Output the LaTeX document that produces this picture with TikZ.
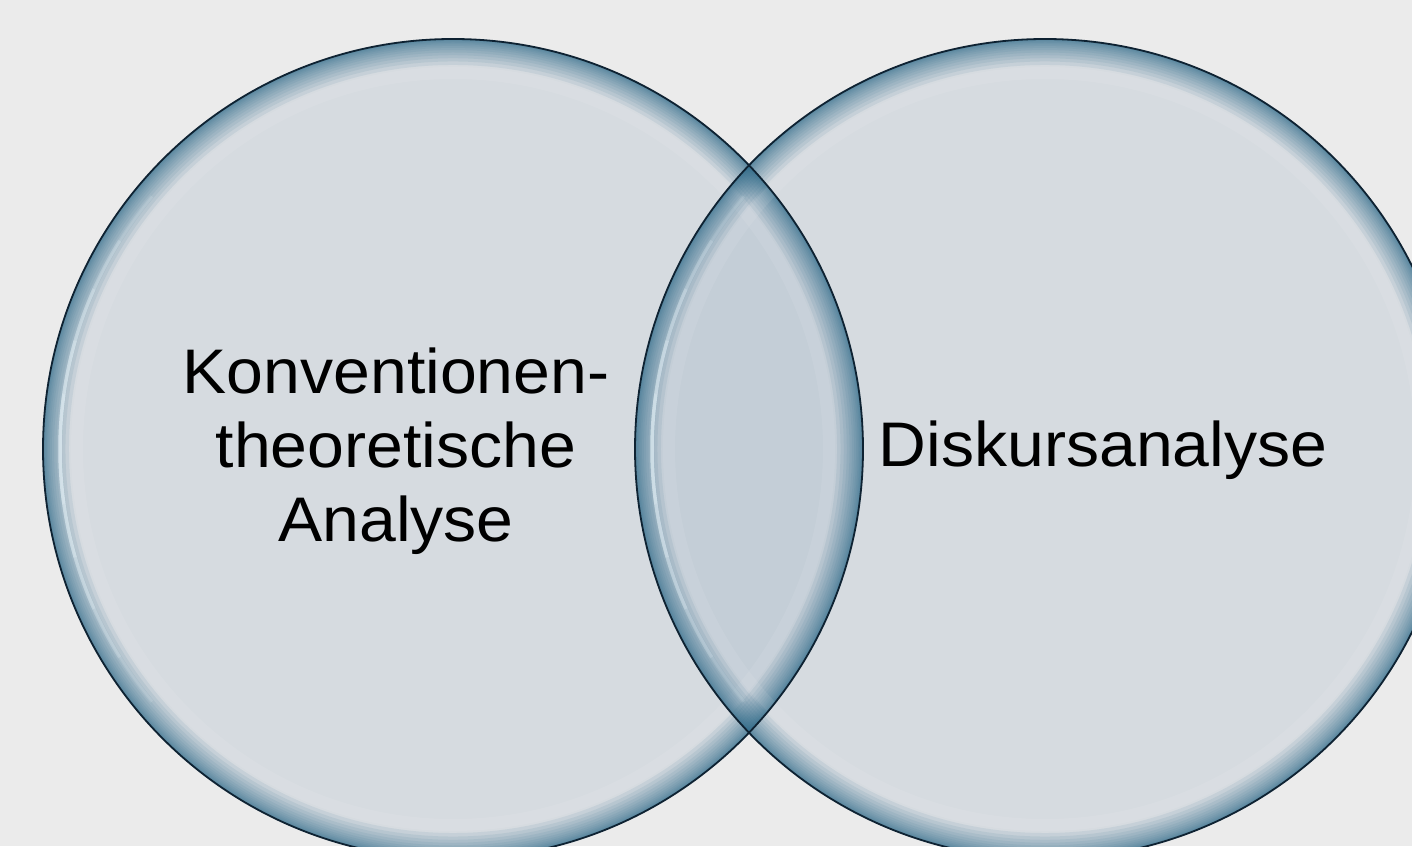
\documentclass[tikz,border=0pt]{standalone}
\usepackage{fontspec}
\usetikzlibrary{calc}
\newfontfamily\lblfont[FakeStretch=1.05]{Liberation Sans}
\definecolor{bgcol}{HTML}{EBEBEB}
\definecolor{discfill}{HTML}{D6DBE0}
\definecolor{overlapfill}{HTML}{C4CED7}
\definecolor{edgeblue}{HTML}{2A6888}
\definecolor{gloss}{HTML}{EAF6FB}
\definecolor{rimdark}{HTML}{0E2232}
\tikzset{
  rim/.style={draw=rimdark, line width=1.8pt},
  label/.style={font=\lblfont\fontsize{63}{74}\selectfont, text=black, inner sep=0pt, align=center}
}
\newcommand{\radius}{410}
% soft blue band fading inward from the rim of a disc
\newcommand{\rimglow}[1]{%
  \begin{scope}
    \clip (#1) circle (\radius);
    \foreach \k in {1,...,14}
      \draw[edgeblue, opacity=0.09, line width=\k*\k*0.26pt+1pt] (#1) circle (\radius);
    % faint light ring just inside the band
    \draw[white, opacity=0.08, line width=12pt] (#1) circle (\radius-34);
    % glossy highlight on the left side
    \foreach \s/\o in {40/0.14,32/0.17,24/0.2,16/0.22,8/0.22}
      \draw[gloss, opacity=\o, line width=3.5pt]
        ($(#1)+(180-\s:\radius-17)$) arc[start angle=180-\s, end angle=180+\s, radius=\radius-17];
  \end{scope}}
\begin{document}
\begin{tikzpicture}[x=1pt,y=1pt]
  \fill[bgcol] (0,0) rectangle (1412,846);
  \useasboundingbox (0,0) rectangle (1412,846);
  \coordinate (cA) at (453,397);
  \coordinate (cB) at (1045,397);
  % discs
  \fill[discfill] (cA) circle (\radius);
  \fill[discfill] (cB) circle (\radius);
  \begin{scope}
    \clip (cA) circle (\radius);
    \fill[overlapfill] (cB) circle (\radius);
  \end{scope}
  \rimglow{cA}
  \rimglow{cB}
  \draw[rim] (cA) circle (\radius);
  \draw[rim] (cB) circle (\radius);
  % labels
  \node[label, anchor=base] (konv) at (396,304) {Konventionen-\\theoretische\\Analyse};
  \node[label, anchor=base] (disk) at (1103,379) {Diskursanalyse};
\end{tikzpicture}
\end{document}
